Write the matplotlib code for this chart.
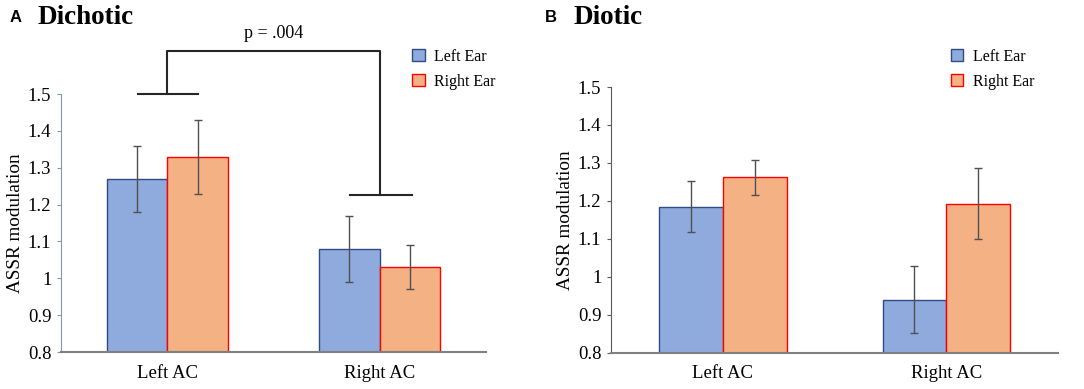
import matplotlib
matplotlib.use("Agg")
import matplotlib.pyplot as plt
from matplotlib.patches import Patch

plt.rcParams['font.family'] = ['Liberation Serif', 'DejaVu Serif']

categories = ['Left AC', 'Right AC']
series = ['Left Ear', 'Right Ear']

dichotic_left = [1.27, 1.08]
dichotic_right = [1.33, 1.03]
dichotic_left_err = [0.09, 0.09]
dichotic_right_err = [0.10, 0.06]

diotic_left = [1.185, 0.94]
diotic_right = [1.262, 1.193]
diotic_left_err = [0.067, 0.089]
diotic_right_err = [0.047, 0.093]

yticks = [0.8, 0.9, 1.0, 1.1, 1.2, 1.3, 1.4, 1.5]
ytick_labels = ['0.8', '0.9', '1', '1.1', '1.2', '1.3', '1.4', '1.5']

p_label = 'p = .004'

blue_fill, blue_edge = '#8faadc', '#2f4b86'
orange_fill, orange_edge = '#f4b183', '#ff0000'
w = 0.285

fig = plt.figure(figsize=(10.84, 3.89), dpi=100)
axA = fig.add_axes([0.0563, 0.0951, 0.392, 0.6632])
axB = fig.add_axes([0.5637, 0.0933, 0.4124, 0.683])


def draw(ax, lv, rv, le, re, spine_col, leg_x):
    x = range(len(categories))
    xl = [i - w / 2 for i in x]
    xr = [i + w / 2 for i in x]
    ax.bar(xl, [v - 0.8 for v in lv], w, bottom=0.8, color=blue_fill,
           edgecolor=blue_edge, linewidth=1.0, zorder=2)
    ax.bar(xr, [v - 0.8 for v in rv], w, bottom=0.8, color=orange_fill,
           edgecolor=orange_edge, linewidth=1.0, zorder=2)
    ax.errorbar(xl, lv, yerr=le, fmt='none', ecolor='#505050', elinewidth=1,
                capsize=3, capthick=1, zorder=3)
    ax.errorbar(xr, rv, yerr=re, fmt='none', ecolor='#505050', elinewidth=1,
                capsize=3, capthick=1, zorder=3)
    ax.set_xlim(-0.5, 1.5)
    ax.set_ylim(0.8, 1.5)
    ax.set_yticks(yticks)
    ax.set_yticklabels(ytick_labels, fontsize=13.5)
    ax.set_xticks(list(x))
    ax.set_xticklabels(categories, fontsize=13.5)
    ax.tick_params(axis='x', length=0, pad=9)
    ax.tick_params(axis='y', length=3, color=spine_col, pad=4)
    for s in ['top', 'right']:
        ax.spines[s].set_visible(False)
    ax.spines['left'].set_color(spine_col)
    ax.spines['bottom'].set_color('#808080')
    ax.spines['bottom'].set_linewidth(1.5)
    ax.set_ylabel('ASSR modulation', fontsize=13.8, labelpad=3)
    handles = [Patch(facecolor=blue_fill, edgecolor=blue_edge, label=series[0]),
               Patch(facecolor=orange_fill, edgecolor=orange_edge, label=series[1])]
    fig.legend(handles=handles, loc='upper left', bbox_to_anchor=(leg_x, 0.875),
               frameon=False, fontsize=11.5, handlelength=0.8, handleheight=0.8,
               handletextpad=0.6, labelspacing=0.58, borderpad=0, borderaxespad=0)


draw(axA, dichotic_left, dichotic_right, dichotic_left_err, dichotic_right_err, '#8497b0', 0.380)
draw(axB, diotic_left, diotic_right, diotic_left_err, diotic_right_err, '#595959', 0.877)

# significance bracket
bk = dict(color='#262626', lw=1.5, clip_on=False)
axA.plot([-0.14, 0.146], [1.5, 1.5], **bk)
axA.plot([0.86, 1.15], [1.226, 1.226], **bk)
axA.plot([0.0, 0.0, 1.0, 1.0], [1.5, 1.617, 1.617, 1.226], **bk)
axA.text(0.5, 1.64, p_label, ha='center', va='bottom', fontsize=13)

fig.text(0.009, 0.955, 'A', fontsize=12, fontweight='bold', family='Liberation Sans', va='center')
fig.text(0.035, 0.955, 'Dichotic', fontsize=19.5, fontweight='bold', va='center')
fig.text(0.503, 0.955, 'B', fontsize=12, fontweight='bold', family='Liberation Sans', va='center')
fig.text(0.529, 0.955, 'Diotic', fontsize=19.5, fontweight='bold', va='center')

fig.savefig('out.png', dpi=100)
